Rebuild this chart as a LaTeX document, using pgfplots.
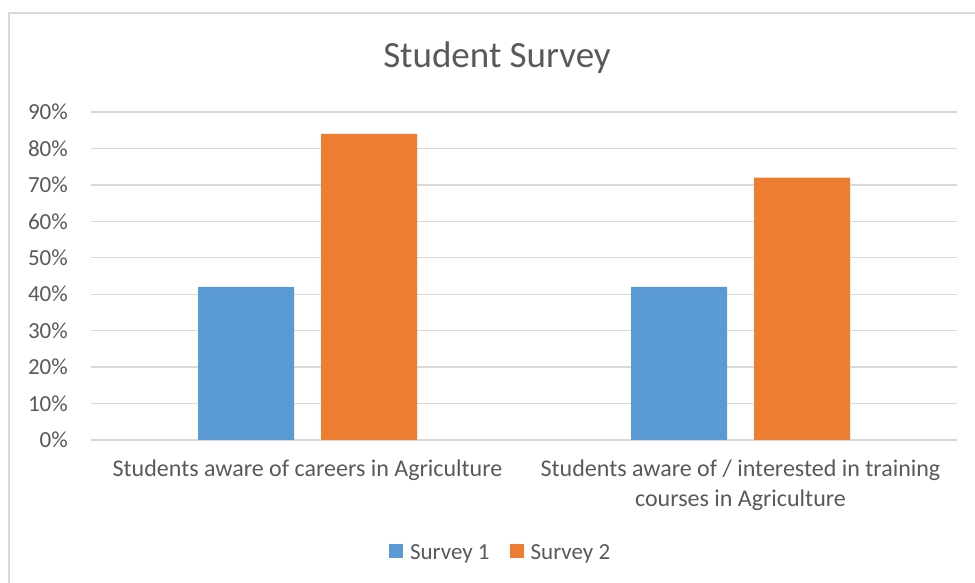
\documentclass[border=0pt]{standalone}
\usepackage{fontspec}
\setmainfont{Carlito}
\usepackage{pgfplots}
\pgfplotsset{compat=1.18}

\definecolor{s1}{RGB}{91,155,213}
\definecolor{s2}{RGB}{237,125,49}
\definecolor{gridc}{RGB}{217,217,217}
\definecolor{txt}{RGB}{89,89,89}

\begin{document}
\begin{tikzpicture}
  \useasboundingbox (0,0) rectangle (975pt,583pt);
  % chart frame (cut off at right and bottom)
  \draw[gridc, line width=1.3pt] (9pt,0pt) -- (9pt,570pt) -- (975pt,570pt);
  \node[anchor=base, text=txt, font=\fontsize{37}{44}\selectfont] at (497pt,515pt) {Student Survey};

  \begin{axis}[
      at={(91pt,143pt)}, anchor=south west,
      scale only axis,
      width=866pt, height=328pt,
      ybar=27pt, bar width=96pt,
      xmin=-0.5, xmax=1.5,
      ymin=0, ymax=90,
      xtick={0,1},
      xticklabels={{Students aware of careers in Agriculture},
                   {Students aware of / interested in training\\courses in Agriculture}},
      ytick={0,10,...,90},
      yticklabels={0\%,10\%,20\%,30\%,40\%,50\%,60\%,70\%,80\%,90\%},
      major tick length=0pt,
      axis line style={draw=none},
      ymajorgrids,
      grid style={gridc, line width=1.3pt},
      tick label style={text=txt, font=\fontsize{23}{30}\selectfont},
      yticklabel style={anchor=east, inner sep=0pt, xshift=-23pt},
      xticklabel style={anchor=north, align=center, inner sep=0pt, yshift=-20pt,
        font=\fontsize{24}{30}\selectfont},
      legend style={at={(0.473,-0.345)}, anchor=center, draw=none, fill=none,
        legend columns=-1, text=txt, font=\fontsize{23}{28}\selectfont,
        /tikz/every even column/.append style={column sep=18pt}},
      legend image code/.code={\fill[#1] (0pt,-5pt) rectangle (14pt,9pt);
        \path (19pt,0pt);},
    ]
    \addplot[fill=s1, draw=none] coordinates {(0,42) (1,42)};
    \addlegendentry{Survey 1}
    \addplot[fill=s2, draw=none] coordinates {(0,84) (1,72)};
    \addlegendentry{Survey 2}
  \end{axis}
\end{tikzpicture}
\end{document}
